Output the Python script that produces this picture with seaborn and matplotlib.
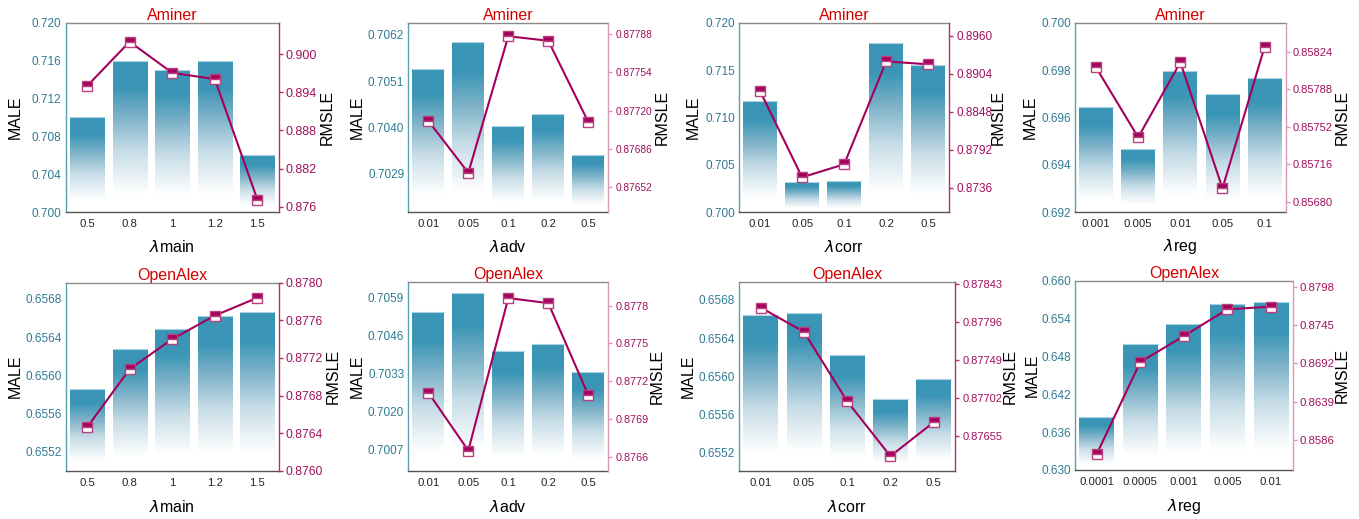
import numpy as np
import pandas as pd
import matplotlib
matplotlib.use("Agg")
import matplotlib.pyplot as plt
from matplotlib.colors import LinearSegmentedColormap
import seaborn as sns

sns.set_style("white")
plt.rcParams['font.family'] = ['Liberation Sans', 'DejaVu Sans']
plt.rcParams['mathtext.fontset'] = 'dejavusans'

# ---------------- data ----------------
titles = ["Aminer"] * 4 + ["OpenAlex"] * 4
xlabels = [r"$\lambda$main", r"$\lambda$adv", r"$\lambda$corr", r"$\lambda$reg"] * 2

cats_main = ["0.5", "0.8", "1", "1.2", "1.5"]
cats_adv = ["0.01", "0.05", "0.1", "0.2", "0.5"]
cats_corr = ["0.01", "0.05", "0.1", "0.2", "0.5"]
cats_reg_a = ["0.001", "0.005", "0.01", "0.05", "0.1"]
cats_reg_o = ["0.0001", "0.0005", "0.001", "0.005", "0.01"]

male_a_main = [0.7100, 0.7160, 0.7150, 0.7160, 0.7060]
rmsle_a_main = [0.8950, 0.9020, 0.8971, 0.8961, 0.8771]
male_a_adv = [0.70539, 0.70604, 0.70405, 0.70432, 0.70335]
rmsle_a_adv = [0.87711, 0.87665, 0.87786, 0.87782, 0.87710]
male_a_corr = [0.71174, 0.70323, 0.70330, 0.71789, 0.71550]
rmsle_a_corr = [0.88785, 0.87512, 0.87704, 0.89222, 0.89178]
male_a_reg = [0.69646, 0.69469, 0.69795, 0.69700, 0.69765]
rmsle_a_reg = [0.85809, 0.85742, 0.85814, 0.85693, 0.85829]

male_o_main = [0.65586, 0.65628, 0.65649, 0.65662, 0.65666]
rmsle_o_main = [0.87646, 0.87708, 0.87740, 0.87765, 0.87784]
male_o_adv = [0.70539, 0.70604, 0.70406, 0.70430, 0.70335]
rmsle_o_adv = [0.87711, 0.87665, 0.87786, 0.87782, 0.87709]
male_o_corr = [0.65664, 0.65666, 0.65622, 0.65576, 0.65597]
rmsle_o_corr = [0.87814, 0.87784, 0.87698, 0.87630, 0.87672]
male_o_reg = [0.63845, 0.64991, 0.65308, 0.65625, 0.65657]
rmsle_o_reg = [0.85666, 0.86938, 0.87298, 0.87667, 0.87704]

cats_all = [cats_main, cats_adv, cats_corr, cats_reg_a,
            cats_main, cats_adv, cats_corr, cats_reg_o]
male_all = [male_a_main, male_a_adv, male_a_corr, male_a_reg,
            male_o_main, male_o_adv, male_o_corr, male_o_reg]
rmsle_all = [rmsle_a_main, rmsle_a_adv, rmsle_a_corr, rmsle_a_reg,
             rmsle_o_main, rmsle_o_adv, rmsle_o_corr, rmsle_o_reg]

left_ticks = [
    [0.700, 0.704, 0.708, 0.712, 0.716, 0.720],
    [0.7029, 0.7040, 0.7051, 0.7062],
    [0.700, 0.705, 0.710, 0.715, 0.720],
    [0.692, 0.694, 0.696, 0.698, 0.700],
    [0.6552, 0.6556, 0.6560, 0.6564, 0.6568],
    [0.7007, 0.7020, 0.7033, 0.7046, 0.7059],
    [0.6552, 0.6556, 0.6560, 0.6564, 0.6568],
    [0.630, 0.636, 0.642, 0.648, 0.654, 0.660],
]
left_fmt = ["%.3f", "%.4f", "%.3f", "%.3f", "%.4f", "%.4f", "%.4f", "%.3f"]
left_lim = [(0.700, 0.720), (0.70199, 0.70649), (0.700, 0.720), (0.692, 0.700),
            (0.6550, 0.65697), (0.69997, 0.70644), (0.65501, 0.65699), (0.630, 0.660)]
right_ticks = [
    [0.876, 0.882, 0.888, 0.894, 0.900],
    [0.87652, 0.87686, 0.87720, 0.87754, 0.87788],
    [0.8736, 0.8792, 0.8848, 0.8904, 0.8960],
    [0.85680, 0.85716, 0.85752, 0.85788, 0.85824],
    [0.8760, 0.8764, 0.8768, 0.8772, 0.8776, 0.8780],
    [0.8766, 0.8769, 0.8772, 0.8775, 0.8778],
    [0.87655, 0.87702, 0.87749, 0.87796, 0.87843],
    [0.8586, 0.8639, 0.8692, 0.8745, 0.8798],
]
right_fmt = ["%.3f", "%.5f", "%.4f", "%.5f", "%.4f", "%.4f", "%.5f", "%.4f"]
right_lim = [(0.8751, 0.9050), (0.87630, 0.87798), (0.86996, 0.89792), (0.85670, 0.85852),
             (0.8760, 0.8780), (0.87649, 0.87799), (0.87612, 0.87846), (0.85445, 0.88063)]

# layout (pixels)
boxes = [
    (65.7, 278.7, 22.7, 212.3), (408.3, 608.3, 22.7, 212.3),
    (739.0, 949.3, 22.7, 212.3), (1075.0, 1285.7, 22.7, 212.3),
    (65.7, 278.7, 282.7, 470.7), (408.3, 608.3, 281.7, 470.7),
    (739.0, 955.3, 281.7, 470.7), (1075.0, 1292.7, 280.7, 470.0),
]
left_label_x = [15, 357, 693, 1030, 15, 357, 688, 1032]
right_label_x = [327, 662, 998, 1342, 333, 657, 1010, 1342]
xlabel_y = [247, 247, 247, 247, 507, 507, 507, 507]
right_tick_size = [9.0, 7.3, 8.5, 8.0, 8.7, 7.8, 8.0, 8.2]
right_spine_colors = ["#b0306e", "#d89abb", "#b0306e", "#d89abb",
                      "#b0306e", "#d89abb", "#b0306e", "#d89abb"]

W, H = 1359, 519
BAR_C = "#3a95b6"
LINE_C = "#a4005c"
TEAL_TXT = "#2f7a93"
MAG_TXT = "#a0105e"

fig = plt.figure(figsize=(W / 100, H / 100), dpi=100)
cmap = LinearSegmentedColormap.from_list(
    "g", [(0.0, "#ffffff"), (0.12, "#ffffff"), (0.40, "#c7dde7"),
          (0.62, "#7fb3c9"), (0.82, BAR_C), (1.0, BAR_C)])

for i in range(8):
    x0, x1, yt, yb = boxes[i]
    aw, ah = x1 - x0, yb - yt
    ax = fig.add_axes([x0 / W, 1 - yb / H, aw / W, ah / H])
    df = pd.DataFrame({"cat": cats_all[i], "MALE": male_all[i]})
    sns.barplot(data=df, x="cat", y="MALE", color=BAR_C, width=0.8, ax=ax,
                saturation=1, order=cats_all[i])
    lo, hi = left_lim[i]
    ax.set_ylim(lo, hi)
    ax.set_xlim(-0.5, 4.5)
    for p in list(ax.patches):
        bx, by = p.get_x(), p.get_y()
        bw, bh = p.get_width(), p.get_height()
        top = by + bh
        p.set_facecolor("none")
        p.set_edgecolor("none")
        p.set_linewidth(0)
        grad = np.linspace(1, 0, 256).reshape(-1, 1)
        im = ax.imshow(grad, cmap=cmap, aspect="auto",
                       extent=[bx, bx + bw, lo, top], origin="upper",
                       vmin=0, vmax=1, zorder=p.get_zorder() - 0.1)
        im.set_clip_path(p)
        ax.plot([bx, bx + bw], [top, top], color="#a9d3e2", lw=0.8,
                zorder=p.get_zorder())
    ax.set_yticks(left_ticks[i])
    ax.set_yticklabels([left_fmt[i] % t for t in left_ticks[i]])
    ax.tick_params(axis="y", colors=TEAL_TXT, labelsize=8.5, length=0, pad=3)
    ax.tick_params(axis="x", colors="#222222", labelsize=8.2, length=0, pad=5)
    ax.set_ylabel("MALE", fontsize=11.5, color="black")
    ax.yaxis.set_label_coords((left_label_x[i] - x0) / aw, 0.5)
    ax.yaxis.label.set_verticalalignment("center")
    ax.set_xlabel(xlabels[i], fontsize=11.5, color="black")
    ax.xaxis.set_label_coords(0.5, -(xlabel_y[i] - yb) / ah)
    ax.xaxis.label.set_verticalalignment("center")
    ax.set_title(titles[i], color="#d40000", fontsize=11.5, pad=2)
    for s in ["top", "bottom", "left"]:
        ax.spines[s].set_visible(True)
    ax.spines["top"].set_color("#8a8a8a")
    ax.spines["bottom"].set_color("#555555")
    ax.spines["left"].set_color("#5c9fb0")
    ax.spines["right"].set_visible(False)
    for s in ax.spines.values():
        s.set_linewidth(1.0)

    ax2 = ax.twinx()
    sns.lineplot(x=np.arange(5), y=rmsle_all[i], ax=ax2, color=LINE_C,
                 linewidth=1.5, marker="s", markersize=7.5, fillstyle="top",
                 markerfacecolor=LINE_C, markerfacecoloralt="white",
                 markeredgecolor="#b8407e", markeredgewidth=1.0, zorder=5)
    ax2.set_ylim(*right_lim[i])
    ax2.set_xlim(-0.5, 4.5)
    ax2.set_yticks(right_ticks[i])
    ax2.set_yticklabels([right_fmt[i] % t for t in right_ticks[i]])
    ax2.tick_params(axis="y", colors=right_spine_colors[i], labelcolor=MAG_TXT,
                    labelsize=right_tick_size[i], length=3, width=1, pad=2,
                    direction="out")
    ax2.set_ylabel("RMSLE", fontsize=11.5, color="black")
    ax2.yaxis.set_label_coords((right_label_x[i] - x0) / aw, 0.5)
    ax2.yaxis.label.set_verticalalignment("center")
    for s in ["top", "bottom", "left"]:
        ax2.spines[s].set_visible(False)
    ax2.spines["right"].set_visible(True)
    ax2.spines["right"].set_color(right_spine_colors[i])
    ax2.spines["right"].set_linewidth(1.0)
    ax2.grid(False)
    ax.grid(False)

fig.savefig("out.png", dpi=100)
